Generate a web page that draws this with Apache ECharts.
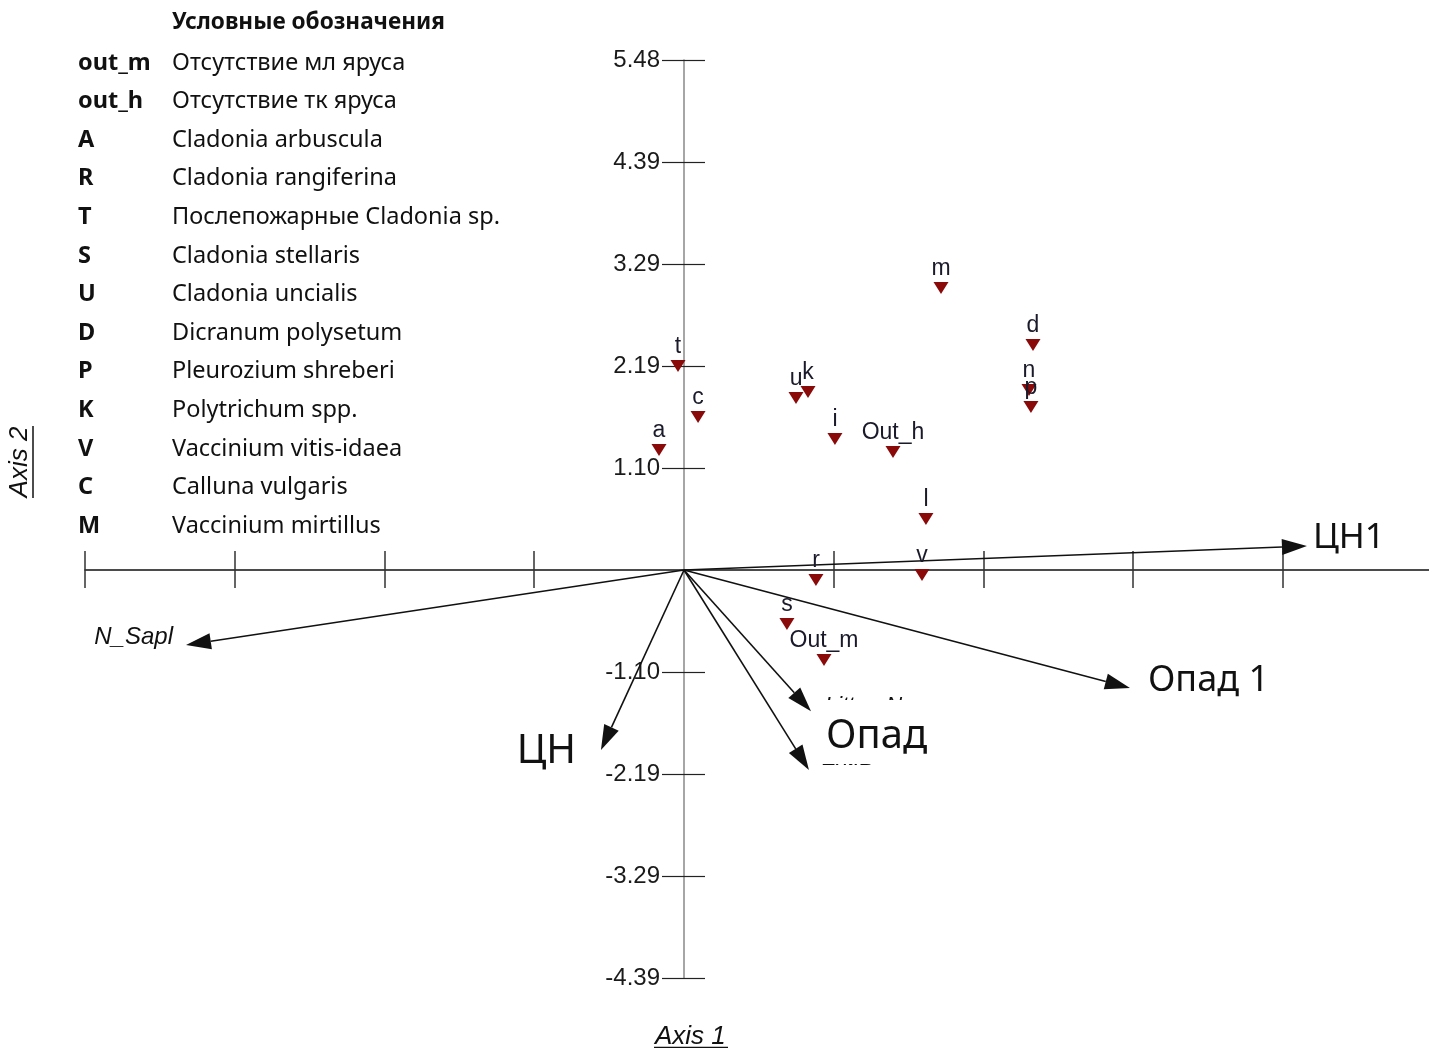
<!DOCTYPE html>
<html><head><meta charset="utf-8">
<script src="https://cdn.jsdelivr.net/npm/echarts@6/dist/echarts.min.js"></script>
<style>html,body{margin:0;padding:0;background:#fff}#c{width:1429px;height:1048px}</style>
</head><body><div id="c"></div>
<script>
// ---- data ----
const xInterval = 1.6;
const yInterval = 1.0963;
const xTicks = [-6.4, -4.8, -3.2, -1.6, 1.6, 3.2, 4.8, 6.4];
const yTicks = [-4.3852, -3.2889, -2.1926, -1.0963, 1.0963, 2.1926, 3.2889, 4.3852, 5.4815];
const pointNames = ['m','d','n','p','t','c','u','k','i','Out_h','a','l','v','r','s','Out_m'];
const pointX = [2.746, 3.729, 3.686, 3.707, -0.064, 0.150, 1.197, 1.325, 1.613, 2.233, -0.267, 2.585, 2.543, 1.410, 1.100, 1.496];
const pointY = [3.031, 2.418, 1.935, 1.752, 2.193, 1.644, 1.849, 1.913, 1.408, 1.268, 1.290, 0.548, -0.054, -0.107, -0.580, -0.967];
const vectorNames = ['ЦН1','N_Sapl','Опад 1','ЦН','Litter_N','Ext.B'];
const vectorX = [6.656, -5.321, 4.765, -0.887, 1.357, 1.335];
const vectorY = [0.258, -0.806, -1.268, -1.935, -1.519, -2.150];
const legendTitle = 'Условные обозначения';
const legendCodes = ['out_m','out_h','A','R','T','S','U','D','P','K','V','C','M'];
const legendNames = ['Отсутствие мл яруса','Отсутствие тк яруса','Cladonia arbuscula','Cladonia rangiferina','Послепожарные Cladonia sp.','Cladonia stellaris','Cladonia uncialis','Dicranum polysetum','Pleurozium shreberi','Polytrichum spp.','Vaccinium vitis-idaea','Calluna vulgaris','Vaccinium mirtillus'];
const overlayLabel = 'Опад';
const axisNames = ['Axis 1','Axis 2'];

// ---- styles ----
const vecLabelStyle = {
  'ЦН1':   {dx: 6,  dy: -8, align: 'left',  font: '35px "Noto Sans"'},
  'N_Sapl':{dx: -13,dy: -8, align: 'right', font: 'italic 24px "Liberation Sans"'},
  'Опад 1':{dx: 18, dy: -7, align: 'left',  font: '36px "Noto Sans"'},
  'ЦН':    {dx: -25,dy: 2,  align: 'right', font: '40px "Noto Sans"'},
  'Litter_N':{dx: 14, dy: -5, align: 'left', font: 'italic 22px "Liberation Sans"'},
  'Ext.B': {dx: 13, dy: -11, align: 'left', font: 'italic 22px "Liberation Sans"'}
};

const GRID_LEFT = 85, GRID_TOP = 60, GRID_W = 1344, GRID_H = 918;
const X_MIN = -4 * xInterval, X_MAX = 7.96;
const Y_MIN = -4 * yInterval, Y_MAX = 5 * yInterval;
const yAxisOffset = -GRID_W * (0 - X_MIN) / (X_MAX - X_MIN);

const chart = echarts.init(document.getElementById('c'));

const scatterData = pointNames.map((n, i) => ({name: n, value: [pointX[i], pointY[i]]}));
const vectorData = vectorNames.map((n, i) => ({name: n, value: [vectorX[i], vectorY[i]]}));

function renderArrow(params, api) {
  const name = vectorNames[params.dataIndex];
  const p0 = api.coord([0, 0]);
  const p1 = api.coord([api.value(0), api.value(1)]);
  const dx = p1[0] - p0[0], dy = p1[1] - p0[1];
  const len = Math.sqrt(dx * dx + dy * dy);
  const ux = dx / len, uy = dy / len;
  const L = 25, W = 8;
  const bx = p1[0] - ux * L, by = p1[1] - uy * L;
  const st = vecLabelStyle[name];
  return {
    type: 'group',
    children: [
      {type: 'line', shape: {x1: p0[0], y1: p0[1], x2: bx, y2: by}, style: {stroke: '#111', lineWidth: 1.6}},
      {type: 'polygon', shape: {points: [[p1[0], p1[1]], [bx - uy * W, by + ux * W], [bx + uy * W, by - ux * W]]}, style: {fill: '#111'}},
      {type: 'text', x: p1[0] + st.dx, y: p1[1] + st.dy, style: {text: name, font: st.font, fill: '#111', align: st.align, verticalAlign: 'middle'}}
    ]
  };
}

const legendGraphics = [];
legendGraphics.push({type: 'text', x: 172, y: 23, z: 100, style: {text: legendTitle, font: 'bold 22.6px "Noto Sans"', fill: '#111', verticalAlign: 'middle'}});
legendCodes.forEach((c, i) => {
  const yc = 63 + i * 38.6;
  legendGraphics.push({type: 'text', x: 78, y: yc, z: 100, style: {text: c, font: 'bold 23.5px "Noto Sans"', fill: '#111', verticalAlign: 'middle'}});
  legendGraphics.push({type: 'text', x: 172, y: yc, z: 100, style: {text: legendNames[i], font: '23.5px "Noto Sans"', fill: '#111', verticalAlign: 'middle'}});
});

const otherGraphics = [
  {type: 'rect', z: 100, shape: {x: 818, y: 700, width: 140, height: 64}, style: {fill: '#fff'}},
  {type: 'text', z: 101, x: 826, y: 737, style: {text: overlayLabel, font: '40px "Noto Sans"', fill: '#111', verticalAlign: 'middle'}},
  {type: 'text', z: 100, x: 655, y: 1037, style: {text: axisNames[0], font: 'italic 26px "Liberation Sans"', fill: '#111', verticalAlign: 'middle'}},
  {type: 'line', z: 100, shape: {x1: 654, y1: 1047.5, x2: 728, y2: 1047.5}, style: {stroke: '#111', lineWidth: 1.5}},
  {type: 'text', z: 100, x: 20, y: 462, rotation: Math.PI / 2, style: {text: axisNames[1], font: 'italic 26px "Liberation Sans"', fill: '#111', align: 'center', verticalAlign: 'middle'}},
  {type: 'line', z: 100, shape: {x1: 33, y1: 426, x2: 33, y2: 498}, style: {stroke: '#111', lineWidth: 1.5}}
];

const yFmt = v => Math.abs(v) < 1e-6 ? '' : v.toFixed(2);

chart.setOption({
  animation: false,
  backgroundColor: '#fff',
  grid: {left: GRID_LEFT, top: GRID_TOP, width: GRID_W, height: GRID_H, containLabel: false},
  xAxis: [
    {type: 'value', min: X_MIN, max: X_MAX, interval: xInterval, position: 'bottom',
     axisLine: {onZero: true, lineStyle: {color: '#111', width: 1.5}},
     axisTick: {show: true, length: 18, customValues: xTicks, lineStyle: {color: '#333', width: 1.5}},
     axisLabel: {show: false}, splitLine: {show: false}},
    {type: 'value', min: X_MIN, max: X_MAX, interval: xInterval, position: 'bottom',
     axisLine: {show: false, onZero: true},
     axisTick: {show: true, inside: true, length: 19, customValues: xTicks, lineStyle: {color: '#333', width: 1.5}},
     axisLabel: {show: false}, splitLine: {show: false}}
  ],
  yAxis: [
    {type: 'value', min: Y_MIN, max: Y_MAX, interval: yInterval, position: 'left', offset: yAxisOffset,
     axisLine: {onZero: false, lineStyle: {color: '#888', width: 1.5}},
     axisTick: {show: true, length: 22, customValues: yTicks, lineStyle: {color: '#222', width: 1.2}},
     axisLabel: {show: true, margin: 24, customValues: yTicks, formatter: yFmt, color: '#1a1a1a', fontSize: 24, fontFamily: 'Liberation Sans'},
     splitLine: {show: false}},
    {type: 'value', min: Y_MIN, max: Y_MAX, interval: yInterval, position: 'left', offset: yAxisOffset,
     axisLine: {show: false, onZero: false},
     axisTick: {show: true, inside: true, length: 21, customValues: yTicks, lineStyle: {color: '#222', width: 1.2}},
     axisLabel: {show: false}, splitLine: {show: false}}
  ],
  series: [
    {type: 'custom', xAxisIndex: 0, yAxisIndex: 0, renderItem: renderArrow, data: vectorData, z: 3, silent: true},
    {type: 'scatter', xAxisIndex: 0, yAxisIndex: 0, data: scatterData, symbol: 'triangle', symbolRotate: 180,
     symbolSize: [15, 12], itemStyle: {color: '#8a0a0a', opacity: 1}, z: 4,
     label: {show: true, position: 'top', distance: 2, formatter: p => p.name, color: '#1a1a2a', fontSize: 23, fontFamily: 'Liberation Sans'}}
  ],
  graphic: legendGraphics.concat(otherGraphics)
});
</script></body></html>
